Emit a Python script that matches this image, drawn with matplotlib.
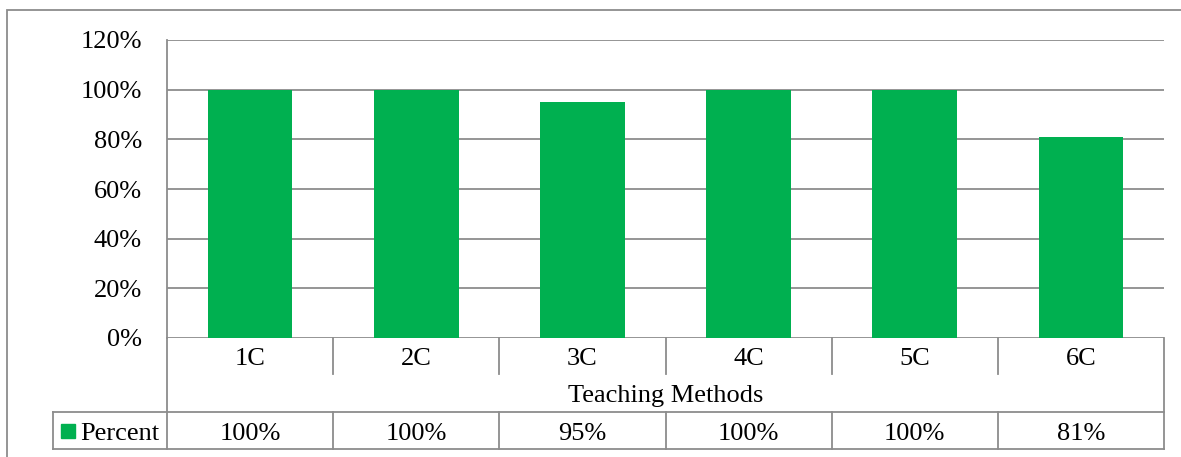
import matplotlib
matplotlib.use("Agg")
import matplotlib.pyplot as plt
from matplotlib.patches import Rectangle

# data
methods = ["1C", "2C", "3C", "4C", "5C", "6C"]
percent = [100, 100, 95, 100, 100, 81]
table_labels = ["100%", "100%", "95%", "100%", "100%", "81%"]
yticks = [0, 20, 40, 60, 80, 100, 120]
series_name = "Percent"
xlabel = "Teaching Methods"

green = "#00B050"
grey = "#8c8c8c"
W, H = 1181, 457

plt.rcParams["font.family"] = ["Liberation Serif", "DejaVu Serif"]
plt.rcParams["font.size"] = 19

fig = plt.figure(figsize=(W / 100, H / 100), dpi=100)
ax = fig.add_axes([167 / W, (H - 338) / H, (1164 - 167) / W, 298 / H])

x = list(range(len(methods)))
ax.bar(x, percent, width=0.51, color=green, zorder=3)
ax.set_xlim(-0.5, len(methods) - 0.5)
ax.set_ylim(0, 120)
ax.set_yticks(yticks)
ax.set_yticklabels([f"{v}%" for v in yticks])
ax.yaxis.grid(True, color=grey, lw=1.3, zorder=0)
ax.set_xticks([])
ax.tick_params(axis="y", length=0, pad=18)
for s in ["top", "right", "bottom"]:
    ax.spines[s].set_visible(False)
ax.spines["left"].set_color(grey)
ax.spines["left"].set_linewidth(1.3)

# data table under the axis (x in data units, y in axes fraction)
tr = ax.get_xaxis_transform()
def py(p):
    # pixel row of the picture -> axes fraction
    return (338 - p) / 298

r1, r2, r3 = py(374), py(412), py(449)
xleft = -0.5 - (167 - 53) / ((1164 - 167) / 6)
n = len(methods)
kw = dict(color=grey, lw=1.3, transform=tr, clip_on=False)

ax.plot([-0.5, -0.5], [0, r3], **kw)
ax.plot([n - 0.5, n - 0.5], [0, r3], **kw)
ax.plot([xleft, n - 0.5], [r2, r2], **kw)
ax.plot([xleft, n - 0.5], [r3, r3], **kw)
ax.plot([xleft, xleft], [r2, r3], **kw)
for k in range(n - 1):
    ax.plot([k + 0.5, k + 0.5], [0, r1], **kw)
    ax.plot([k + 0.5, k + 0.5], [r2, r3], **kw)

for i, m in enumerate(methods):
    ax.text(i, py(365), m, transform=tr, ha="center", va="baseline")
    ax.text(i, py(440), table_labels[i], transform=tr, ha="center", va="baseline")
ax.text((n - 1) / 2, py(402), xlabel, transform=tr, ha="center", va="baseline")

# legend key inside the table
ax.add_patch(Rectangle((-0.5 - (167 - 61) / 166.17, py(438)), 14 / 166.17, 14 / 298,
                       color=green, transform=tr, clip_on=False))
ax.text(-0.5 - (167 - 80) / 166.17, py(440), series_name, transform=tr, ha="left", va="baseline")

# outer chart frame
fig.add_artist(Rectangle((7 / W, -0.1), 2, 1.1 - 10 / H, transform=fig.transFigure,
                         fill=False, edgecolor=grey, lw=1.3))

fig.savefig("out.png", dpi=100)
